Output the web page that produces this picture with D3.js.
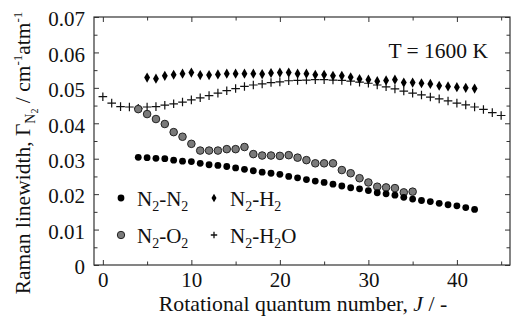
<!DOCTYPE html>
<html>
<head>
<meta charset="utf-8">
<script src="https://cdn.jsdelivr.net/npm/d3@7"></script>
<style>
  body { margin: 0; background: #fff; }
</style>
</head>
<body>
<script>
// rotational quantum numbers and linewidths (cm-1 atm-1)
const jN2 = d3.range(4, 43);
const n2n2 = [0.0304,0.0303,0.0301,0.0300,0.0296,0.0293,0.0292,0.0287,0.0283,0.0281,0.0278,0.0274,0.0270,0.0266,0.0262,0.0259,0.0256,0.0250,0.0246,0.0241,0.0237,0.0233,0.0228,0.0223,0.0218,0.0215,0.0210,0.0204,0.0201,0.0197,0.0191,0.0186,0.0182,0.0179,0.0174,0.0170,0.0167,0.0162,0.0157];

const jO2 = d3.range(4, 36);
const n2o2 = [0.0440,0.0426,0.0412,0.0398,0.0375,0.0362,0.0342,0.0323,0.0323,0.0323,0.0327,0.0327,0.0333,0.0313,0.0309,0.0309,0.0308,0.0310,0.0303,0.0296,0.0287,0.0287,0.0287,0.0268,0.0259,0.0245,0.0233,0.0221,0.0219,0.0217,0.0205,0.0207];

const jH2 = d3.range(5, 43);
const n2h2 = [0.0529,0.0526,0.0534,0.0537,0.0540,0.0543,0.0536,0.0536,0.0538,0.0540,0.0540,0.0540,0.0540,0.0539,0.0542,0.0543,0.0543,0.0540,0.0540,0.0537,0.0537,0.0534,0.0534,0.0530,0.0525,0.0523,0.0519,0.0521,0.0523,0.0515,0.0515,0.0513,0.0511,0.0506,0.0504,0.0502,0.0500,0.0498];

const jH2O = d3.range(0, 46);
const n2h2o = [0.0475,0.0457,0.0447,0.0446,0.0442,0.0446,0.0447,0.0451,0.0455,0.0460,0.0466,0.0472,0.0478,0.0485,0.0492,0.0498,0.0504,0.0508,0.0511,0.0515,0.0517,0.0520,0.0521,0.0522,0.0523,0.0523,0.0522,0.0521,0.0519,0.0516,0.0513,0.0508,0.0503,0.0497,0.0491,0.0485,0.0480,0.0474,0.0469,0.0463,0.0457,0.0452,0.0446,0.0439,0.0430,0.0422];

const xMajor = [0, 10, 20, 30, 40];
const xMinor = [5, 15, 25, 35, 45];
const yMajor = [0, 0.01, 0.02, 0.03, 0.04, 0.05, 0.06, 0.07];
const yMinor = [0.005, 0.015, 0.025, 0.035, 0.045, 0.055, 0.065];

const width = 519, height = 325;
const margin = { top: 17, right: 9, bottom: 60, left: 94 };
const fs = 21;
const serif = '"Liberation Serif"';

const svg = d3.select('body').append('svg')
  .attr('width', width)
  .attr('height', height);

const x = d3.scaleLinear().domain([-1, 46]).range([margin.left, width - margin.right]);
const y = d3.scaleLinear().domain([0, 0.07]).range([height - margin.bottom, margin.top]);

const fmtY = d => d === 0 ? '0' : d3.format('.2f')(d);

// ticks point inward on all four sides
function styleAxis(g) {
  g.attr('font-family', serif);
  g.select('.domain').remove();
  g.selectAll('line').attr('stroke', '#333').attr('stroke-width', 1);
  g.selectAll('text').attr('font-size', fs).attr('font-family', serif).attr('fill', '#111');
}

svg.append('g').attr('transform', `translate(0,${y(0)})`)
  .call(d3.axisBottom(x).tickValues(xMajor).tickSize(-5).tickPadding(7).tickFormat(d3.format('d')))
  .call(styleAxis);
svg.append('g').attr('transform', `translate(0,${y(0)})`)
  .call(d3.axisBottom(x).tickValues(xMinor).tickSize(-3.5).tickFormat(''))
  .call(styleAxis);
svg.append('g').attr('transform', `translate(0,${y(0.07)})`)
  .call(d3.axisTop(x).tickValues(xMajor).tickSize(-5).tickFormat(''))
  .call(styleAxis);
svg.append('g').attr('transform', `translate(0,${y(0.07)})`)
  .call(d3.axisTop(x).tickValues(xMinor).tickSize(-3.5).tickFormat(''))
  .call(styleAxis);

svg.append('g').attr('transform', `translate(${x(-1)},0)`)
  .call(d3.axisLeft(y).tickValues(yMajor).tickSize(-5).tickPadding(9).tickFormat(fmtY))
  .call(styleAxis)
  .selectAll('text').attr('dy', '0.42em');
svg.append('g').attr('transform', `translate(${x(-1)},0)`)
  .call(d3.axisLeft(y).tickValues(yMinor).tickSize(-3.5).tickFormat(''))
  .call(styleAxis);
svg.append('g').attr('transform', `translate(${x(46)},0)`)
  .call(d3.axisRight(y).tickValues(yMajor).tickSize(-5).tickFormat(''))
  .call(styleAxis);
svg.append('g').attr('transform', `translate(${x(46)},0)`)
  .call(d3.axisRight(y).tickValues(yMinor).tickSize(-3.5).tickFormat(''))
  .call(styleAxis);

// frame
svg.append('rect')
  .attr('x', x(-1)).attr('y', y(0.07))
  .attr('width', x(46) - x(-1)).attr('height', y(0) - y(0.07))
  .attr('fill', 'none').attr('stroke', '#333').attr('stroke-width', 1.2);

// markers
const diamond = d3.symbol().type(d3.symbolDiamond).size(30);
const plusPath = s => `M${-s},0H${s}M0,${-s}V${s}`;

const plot = svg.append('g');

plot.selectAll('path.h2o').data(jH2O)
  .join('path').attr('class', 'h2o')
  .attr('transform', (d, i) => `translate(${x(d)},${y(n2h2o[i])})`)
  .attr('d', plusPath(4.3))
  .attr('stroke', '#111').attr('stroke-width', 1.2).attr('fill', 'none');

plot.selectAll('path.h2').data(jH2)
  .join('path').attr('class', 'h2')
  .attr('transform', (d, i) => `translate(${x(d)},${y(n2h2[i])})`)
  .attr('d', diamond())
  .attr('fill', '#000');

plot.selectAll('circle.o2').data(jO2)
  .join('circle').attr('class', 'o2')
  .attr('cx', d => x(d))
  .attr('cy', (d, i) => y(n2o2[i]))
  .attr('r', 3.8)
  .attr('fill', '#7a7a7a').attr('stroke', '#222').attr('stroke-width', 1);

plot.selectAll('circle.n2').data(jN2)
  .join('circle').attr('class', 'n2')
  .attr('cx', d => x(d))
  .attr('cy', (d, i) => y(n2n2[i]))
  .attr('r', 3.4)
  .attr('fill', '#000');

// legend
const legendItems = [
  { parts: ['N', '2', '-N', '2'], col: 0, row: 0, mark: 'n2' },
  { parts: ['N', '2', '-H', '2'], col: 1, row: 0, mark: 'h2' },
  { parts: ['N', '2', '-O', '2'], col: 0, row: 1, mark: 'o2' },
  { parts: ['N', '2', '-H', '2', 'O'], col: 1, row: 1, mark: 'h2o' }
];
const legend = svg.append('g');
legendItems.forEach(it => {
  const mx = 121 + it.col * 93, my = 198 + it.row * 37;
  const g = legend.append('g');
  if (it.mark === 'n2') g.append('circle').attr('cx', mx).attr('cy', my).attr('r', 3.4).attr('fill', '#000');
  if (it.mark === 'o2') g.append('circle').attr('cx', mx).attr('cy', my).attr('r', 3.7).attr('fill', '#7a7a7a').attr('stroke', '#222');
  if (it.mark === 'h2') g.append('path').attr('transform', `translate(${mx},${my})`).attr('d', d3.symbol().type(d3.symbolDiamond).size(22)()).attr('fill', '#000');
  if (it.mark === 'h2o') g.append('path').attr('transform', `translate(${mx},${my})`).attr('d', plusPath(3.2)).attr('stroke', '#111').attr('stroke-width', 1.3);
  const t = g.append('text').attr('x', mx + 16).attr('y', my + 8)
    .attr('font-family', serif).attr('font-size', fs).attr('fill', '#111');
  it.parts.forEach((p, k) => {
    if (p === '2') t.append('tspan').attr('font-size', 14).attr('dy', 5).text(p);
    else t.append('tspan').attr('dy', k === 0 ? 0 : -5).text(p);
  });
});

// temperature note
svg.append('text')
  .attr('x', 488).attr('y', 58)
  .attr('text-anchor', 'end')
  .attr('font-family', serif).attr('font-size', 21.5).attr('fill', '#111')
  .text('T = 1600 K');

// axis titles
const xt = svg.append('text')
  .attr('x', 303).attr('y', 311)
  .attr('text-anchor', 'middle')
  .attr('font-family', serif).attr('font-size', 21.8).attr('fill', '#111');
xt.append('tspan').text('Rotational quantum number, ');
xt.append('tspan').attr('font-style', 'italic').text('J');
xt.append('tspan').text(' / -');

const yt = svg.append('text')
  .attr('transform', 'translate(30,153) rotate(-90)')
  .attr('text-anchor', 'middle')
  .attr('font-family', serif).attr('font-size', 21.5).attr('fill', '#111');
yt.append('tspan').text('Raman linewidth, Γ');
yt.append('tspan').attr('font-size', 14).attr('dy', 5).text('N');
yt.append('tspan').attr('font-size', 10).attr('dy', 3).text('2');
yt.append('tspan').attr('dy', -8).text(' / cm');
yt.append('tspan').attr('font-size', 13).attr('dy', -8).text('-1');
yt.append('tspan').attr('dy', 8).text('atm');
yt.append('tspan').attr('font-size', 13).attr('dy', -8).text('-1');
</script>
</body>
</html>
